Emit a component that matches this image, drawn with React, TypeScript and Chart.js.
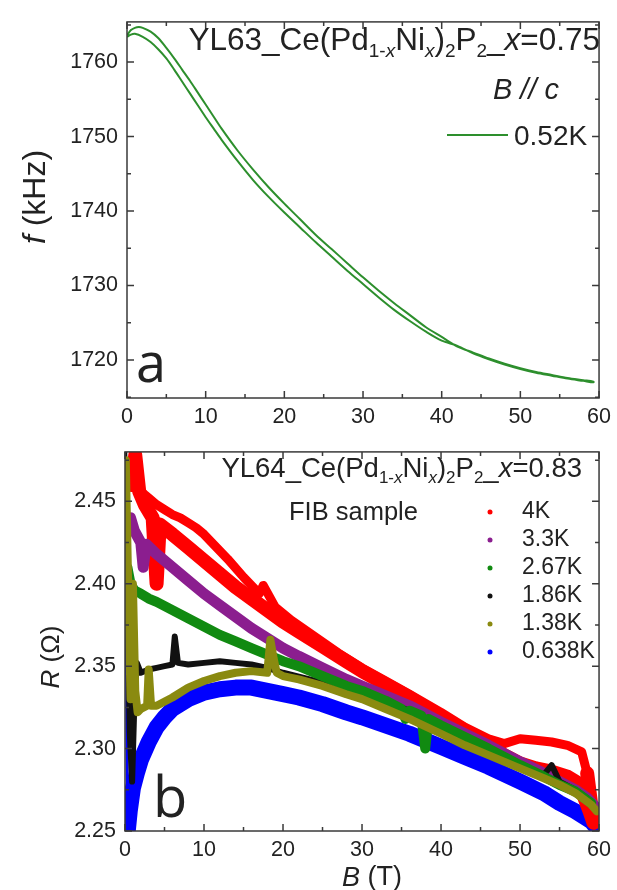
import React, { useEffect, useRef } from 'react';
import { Chart, registerables } from 'chart.js';
Chart.register(...registerables);

const FONT = '"Liberation Sans", Arial, Helvetica, sans-serif';
const TEXT = '#222222';
const AXIS = '#3a3a3a';

// ---------- shared ticks ----------
const B_TICKS = [0, 10, 20, 30, 40, 50, 60];
const F_TICKS = [1720, 1730, 1740, 1750, 1760];
const R_TICKS = [2.25, 2.3, 2.35, 2.4, 2.45];

// ---------- panel a : f(B), 0.52 K (two sweep branches) ----------
const lowerField = [0, 0.5, 1, 2, 3, 4, 5, 6, 7, 8, 9, 10, 11, 12, 14, 16, 18, 20, 22, 24, 26, 28, 30, 32, 34, 36, 38, 40, 42, 44, 46, 48, 50, 52, 54, 56, 58, 59.3];
const lowerFreq = [1763.4, 1763.7, 1763.8, 1763.4, 1762.7, 1761.7, 1760.5, 1759.0, 1757.4, 1755.8, 1754.2, 1752.6, 1751.1, 1749.6, 1746.8, 1744.2, 1741.9, 1739.8, 1737.8, 1735.8, 1733.9, 1732.0, 1730.2, 1728.4, 1726.7, 1725.2, 1723.8, 1722.6, 1721.9, 1720.9, 1720.1, 1719.4, 1718.8, 1718.3, 1717.9, 1717.5, 1717.2, 1717.0];
const upperField = [0, 0.5, 1, 1.5, 2, 3, 4, 5, 6, 7, 8, 9, 10, 11, 12, 14, 16, 18, 20, 22, 24, 26, 28, 30, 32, 34, 36, 38, 40, 42, 44, 46, 48, 50, 52, 54, 56, 58, 59.3];
const upperFreq = [1763.6, 1764.3, 1764.6, 1764.7, 1764.6, 1764.1, 1763.2, 1761.9, 1760.5, 1759.0, 1757.5, 1755.9, 1754.3, 1752.7, 1751.1, 1748.2, 1745.6, 1743.2, 1741.0, 1738.9, 1736.8, 1734.9, 1733.0, 1731.1, 1729.3, 1727.6, 1726.0, 1724.4, 1723.1, 1721.8, 1721.0, 1720.2, 1719.5, 1718.9, 1718.4, 1718.0, 1717.6, 1717.3, 1717.1];
const labelA = '0.52K';

// ---------- panel b : R(B) at several temperatures ----------
const redField = [0.2, 0.8, 1.3, 1.8, 2.5, 3.5, 4.0, 4.4, 6, 8, 10, 12, 14, 16, 18, 20, 22, 25, 28, 30, 33, 36, 40, 43, 46, 48, 50, 52, 54, 56, 57, 58, 58.8, 59.3,
  58.5, 57.8, 56, 54, 52, 50, 48, 46, 43, 40, 36, 33, 30, 27, 24, 21, 19, 17.5, 17, 15, 13, 11, 10, 9, 8, 7, 6, 5, 4, 3, 2, 1.2];
const redR = [2.47, 2.46, 2.478, 2.456, 2.448, 2.44, 2.40, 2.436, 2.43, 2.422, 2.414, 2.406, 2.398, 2.391, 2.384, 2.377, 2.371, 2.362, 2.353, 2.347, 2.339, 2.331, 2.319, 2.311, 2.302, 2.296, 2.291, 2.288, 2.286, 2.283, 2.28, 2.272, 2.262, 2.255,
  2.285, 2.298, 2.302, 2.304, 2.305, 2.306, 2.303, 2.306, 2.313, 2.322, 2.333, 2.341, 2.349, 2.358, 2.368, 2.378, 2.386, 2.399, 2.394, 2.404, 2.415, 2.425, 2.43, 2.434, 2.437, 2.44, 2.442, 2.445, 2.448, 2.452, 2.456, 2.462];
const redReturnStart = 34;

const purpleField = [0.2, 0.7, 1.2, 2, 2.3, 2.7, 4, 6, 8, 10, 12, 14, 16, 18, 20, 22, 25, 28, 30, 33, 36, 40, 43, 46, 50, 53, 55, 57, 58.5, 59.5];
const purpleR = [2.44, 2.44, 2.432, 2.425, 2.41, 2.424, 2.418, 2.41, 2.402, 2.394, 2.387, 2.38, 2.373, 2.367, 2.361, 2.356, 2.349, 2.342, 2.338, 2.332, 2.326, 2.316, 2.309, 2.302, 2.292, 2.285, 2.28, 2.275, 2.27, 2.265];

const greenField = [0.3, 0.7, 1.2, 2, 3, 4, 6, 8, 10, 12, 14, 16, 18, 20, 22, 25, 28, 30, 33, 35, 35.5, 36, 37.5, 38, 38.4, 40, 43, 46, 50, 53, 55, 57, 59];
const greenR = [2.41, 2.4, 2.396, 2.394, 2.391, 2.389, 2.384, 2.379, 2.374, 2.369, 2.365, 2.361, 2.357, 2.353, 2.35, 2.344, 2.338, 2.335, 2.329, 2.324, 2.318, 2.323, 2.32, 2.3, 2.318, 2.314, 2.307, 2.3, 2.29, 2.283, 2.278, 2.274, 2.267];

const blackField = [0.1, 0.3, 0.6, 0.9, 1.2, 1.5, 2, 3, 4, 5, 6, 6.3, 6.7, 8, 10, 12, 14, 16, 18, 20, 25, 30, 35, 40, 45, 50, 53, 54, 55, 57, 59];
const blackR = [2.48, 2.4, 2.31, 2.28, 2.33, 2.352, 2.346, 2.348, 2.349, 2.35, 2.351, 2.368, 2.352, 2.351, 2.352, 2.353, 2.352, 2.351, 2.349, 2.346, 2.34, 2.333, 2.325, 2.314, 2.302, 2.29, 2.284, 2.29, 2.28, 2.275, 2.268];

const oliveField = [0.1, 0.4, 0.7, 1.0, 1.3, 1.6, 2, 2.8, 3.0, 3.3, 4, 6, 8, 10, 12, 14, 16, 18, 18.4, 18.8, 19.2, 20, 22, 25, 28, 30, 33, 36, 40, 43, 46, 50, 53, 55, 57, 59, 59.7];
const oliveR = [2.475, 2.4, 2.33, 2.4, 2.335, 2.322, 2.324, 2.326, 2.348, 2.326, 2.326, 2.331, 2.337, 2.341, 2.344, 2.346, 2.347, 2.346, 2.366, 2.355, 2.346, 2.344, 2.342, 2.338, 2.333, 2.33, 2.324, 2.318, 2.309, 2.302, 2.296, 2.288, 2.282, 2.278, 2.273, 2.266, 2.262];

const blueField = [0.05, 0.15, 0.25, 0.35, 0.6, 1, 1.5, 2, 3, 4, 5, 6, 8, 10, 12, 14, 16, 18, 20, 22, 25, 28, 30, 33, 36, 40, 43, 46, 50, 53, 55, 57, 58, 59, 59.7];
const blueR = [2.478, 2.4, 2.3, 2.25, 2.262, 2.276, 2.285, 2.293, 2.304, 2.313, 2.319, 2.324, 2.33, 2.334, 2.336, 2.337, 2.337, 2.335, 2.333, 2.331, 2.327, 2.322, 2.319, 2.314, 2.309, 2.301, 2.295, 2.289, 2.28, 2.273, 2.267, 2.262, 2.259, 2.256, 2.252];

const seriesLabels = ['4K', '3.3K', '2.67K', '1.86K', '1.38K', '0.638K'];
const seriesColors = ['#ff0000', '#8b1e8f', '#118a11', '#111111', '#8a8a10', '#0000ff'];
const seriesFields = [redField, purpleField, greenField, blackField, oliveField, blueField];
const seriesValues = [redR, purpleR, greenR, blackR, oliveR, blueR];
const seriesWidths = [14, 11, 10, 6, 8, 16];
const seriesOrder = [5, 4, 2, 3, 1, 6];

const zip = (xs: number[], ys: number[]) => xs.map((x, i) => ({ x, y: ys[i] }));

type Run = { t: string; it?: boolean; sub?: boolean };
function drawRich(ctx: CanvasRenderingContext2D, runs: Run[], x: number, y: number, size: number,
  align: 'left' | 'right' | 'center', baseline: CanvasTextBaseline = 'alphabetic', family = FONT) {
  const fontFor = (r: Run) => `${r.it ? 'italic ' : ''}${r.sub ? Math.round(size * 0.6) : size}px ${family}`;
  let total = 0;
  const widths = runs.map((r) => { ctx.font = fontFor(r); const w = ctx.measureText(r.t).width; total += w; return w; });
  let cx = align === 'right' ? x - total : align === 'center' ? x - total / 2 : x;
  ctx.textAlign = 'left';
  ctx.textBaseline = baseline;
  runs.forEach((r, i) => {
    ctx.font = fontFor(r);
    ctx.fillText(r.t, cx, y + (r.sub ? size * 0.22 : 0));
    cx += widths[i];
  });
}

const frameTicks = {
  id: 'frameTicks',
  afterDraw(chart: any) {
    const { ctx, chartArea } = chart;
    const { left, right, top, bottom } = chartArea;
    const xs = chart.scales.x;
    const ys = chart.scales.y;
    ctx.save();
    ctx.strokeStyle = AXIS;
    ctx.lineWidth = 1.5;
    ctx.strokeRect(left, top, right - left, bottom - top);
    const withMinors = (vals: number[]) => {
      const out: { v: number; major: boolean }[] = [];
      const step = vals[1] - vals[0];
      out.push({ v: vals[0] - step / 2, major: false });
      vals.forEach((v) => {
        out.push({ v, major: true });
        out.push({ v: v + step / 2, major: false });
      });
      return out;
    };
    ctx.beginPath();
    withMinors(xs.ticks.map((t: any) => t.value)).forEach(({ v, major }) => {
      if (v < xs.min || v > xs.max) return;
      const p = xs.getPixelForValue(v);
      const L = major ? 7 : 4;
      ctx.moveTo(p, bottom); ctx.lineTo(p, bottom - L);
      ctx.moveTo(p, top); ctx.lineTo(p, top + L);
    });
    withMinors(ys.ticks.map((t: any) => t.value)).forEach(({ v, major }) => {
      if (v < ys.min || v > ys.max) return;
      const p = ys.getPixelForValue(v);
      const L = major ? 7 : 4;
      ctx.moveTo(left, p); ctx.lineTo(left + L, p);
      ctx.moveTo(right, p); ctx.lineTo(right - L, p);
    });
    ctx.stroke();
    ctx.restore();
  },
};

function annotA(chart: any) {
  const ctx = chart.ctx as CanvasRenderingContext2D;
  ctx.save();
  ctx.fillStyle = TEXT;
  drawRich(ctx, [
    { t: 'YL63_Ce(Pd' }, { t: '1-', sub: true }, { t: 'x', sub: true, it: true }, { t: 'Ni' },
    { t: 'x', sub: true, it: true }, { t: ')' }, { t: '2', sub: true }, { t: 'P' }, { t: '2', sub: true },
    { t: '_' }, { t: 'x', it: true }, { t: '=0.75' },
  ], 600, 50, 31.5, 'right');
  drawRich(ctx, [{ t: 'B // c', it: true }], 526, 99, 29, 'center');
  const ds = chart.data.datasets[0];
  ctx.strokeStyle = ds.borderColor;
  ctx.lineWidth = 2;
  ctx.beginPath(); ctx.moveTo(447, 135); ctx.lineTo(508, 135); ctx.stroke();
  drawRich(ctx, [{ t: ds.label }], 514, 137, 28, 'left', 'middle');
  drawRich(ctx, [{ t: 'a' }], 136, 382, 54, 'left', 'alphabetic', '"Open Sans", sans-serif');
  ctx.translate(36, 197);
  ctx.rotate(-Math.PI / 2);
  drawRich(ctx, [{ t: 'f', it: true }, { t: ' (kHz)' }], 0, 0, 32, 'center', 'middle');
  ctx.restore();
}

function annotB(chart: any) {
  const ctx = chart.ctx as CanvasRenderingContext2D;
  ctx.save();
  ctx.fillStyle = TEXT;
  drawRich(ctx, [
    { t: 'YL64_Ce(Pd' }, { t: '1-', sub: true }, { t: 'x', sub: true, it: true }, { t: 'Ni' },
    { t: 'x', sub: true, it: true }, { t: ')' }, { t: '2', sub: true }, { t: 'P' }, { t: '2', sub: true },
    { t: '_' }, { t: 'x', it: true }, { t: '=0.83' },
  ], 582, 47, 27.5, 'right');
  drawRich(ctx, [{ t: 'FIB sample' }], 289, 90, 25.5, 'left');
  seriesLabels.forEach((lab, i) => {
    const y = 82 + i * 28;
    ctx.fillStyle = seriesColors[i];
    ctx.beginPath(); ctx.arc(490, y, 2.5, 0, Math.PI * 2); ctx.fill();
    ctx.fillStyle = TEXT;
    drawRich(ctx, [{ t: lab }], 522, y, 23, 'left', 'middle');
  });
  drawRich(ctx, [{ t: 'b' }], 153, 387, 56, 'left', 'alphabetic', '"Open Sans", sans-serif');
  drawRich(ctx, [{ t: 'B', it: true }, { t: ' (T)' }], 372, 448, 27, 'center', 'middle');
  ctx.translate(52, 227);
  ctx.rotate(-Math.PI / 2);
  drawRich(ctx, [{ t: 'R', it: true }, { t: ' (Ω)' }], 0, 0, 26, 'center', 'middle');
  ctx.restore();
}

const tickFont = { family: FONT, size: 21.5 };

function makeScales(yMin: number, yMax: number, yTicks: number[], yWidth: number, xHeight: number, yFmt: (v: number) => string) {
  return {
    x: {
      type: 'linear', min: 0, max: 60,
      afterBuildTicks: (s: any) => { s.ticks = B_TICKS.map((v) => ({ value: v })); },
      afterFit: (s: any) => { s.height = xHeight; },
      grid: { display: false, drawTicks: false },
      border: { display: false },
      ticks: { font: tickFont, color: TEXT, padding: 6, maxRotation: 0, callback: (v: any) => String(v) },
    },
    y: {
      type: 'linear', min: yMin, max: yMax,
      afterBuildTicks: (s: any) => { s.ticks = yTicks.map((v) => ({ value: v })); },
      afterFit: (s: any) => { s.width = yWidth; },
      grid: { display: false, drawTicks: false },
      border: { display: false },
      ticks: { font: tickFont, color: TEXT, padding: 9, callback: (v: any) => yFmt(Number(v)) },
    },
  };
}

export default function App() {
  const refA = useRef<HTMLCanvasElement>(null);
  const refB = useRef<HTMLCanvasElement>(null);

  useEffect(() => {
    const dataA = [...zip(lowerField, lowerFreq), ...zip(upperField, upperFreq).reverse()];
    const chartA = new Chart(refA.current!, {
      type: 'line',
      data: {
        datasets: [{
          label: labelA, data: dataA, borderColor: '#2d8f2d', borderWidth: 2,
          pointRadius: 0, pointHoverRadius: 0, tension: 0.3, clip: 0, fill: false,
        } as any],
      },
      options: {
        animation: false, responsive: false, devicePixelRatio: 1,
        layout: { padding: { left: 0, top: 14, right: 14, bottom: 0 } },
        plugins: { legend: { display: false }, tooltip: { enabled: false } },
        scales: makeScales(1714.9, 1765.4, F_TICKS, 127, 32, (v) => String(v)) as any,
      },
      plugins: [frameTicks, { id: 'annotA', afterDraw: annotA }],
    });

    const chartB = new Chart(refB.current!, {
      type: 'line',
      data: {
        datasets: seriesLabels.map((lab, i) => ({
          label: lab,
          data: zip(seriesFields[i], seriesValues[i]),
          borderColor: seriesColors[i],
          backgroundColor: seriesColors[i],
          borderWidth: seriesWidths[i],
          borderJoinStyle: 'round',
          borderCapStyle: 'round',
          pointRadius: 0, pointHoverRadius: 0, tension: 0, clip: 0, fill: false,
          order: seriesOrder[i],
          segment: {
            borderWidth: (c: any) => {
              if (c.p1.parsed.x < 0.4) return 3;
              if (i === 0 && c.p0DataIndex >= redReturnStart) return 9;
              return undefined;
            },
          },
        })) as any,
      },
      options: {
        animation: false, responsive: false, devicePixelRatio: 1,
        layout: { padding: { left: 0, top: 13, right: 12, bottom: 0 } },
        plugins: { legend: { display: false }, tooltip: { enabled: false } },
        scales: makeScales(2.25, 2.48, R_TICKS, 125, 59, (v) => v.toFixed(2)) as any,
      },
      plugins: [frameTicks, { id: 'annotB', afterDraw: annotB }],
    });

    return () => { chartA.destroy(); chartB.destroy(); };
  }, []);

  return (
    <div style={{ position: 'absolute', left: 0, top: 0, width: 617, height: 890, background: '#ffffff' }}>
      <canvas ref={refA} width={617} height={430} style={{ position: 'absolute', left: 0, top: 0, width: 617, height: 430 }} />
      <canvas ref={refB} width={617} height={460} style={{ position: 'absolute', left: 0, top: 430, width: 617, height: 460 }} />
    </div>
  );
}
